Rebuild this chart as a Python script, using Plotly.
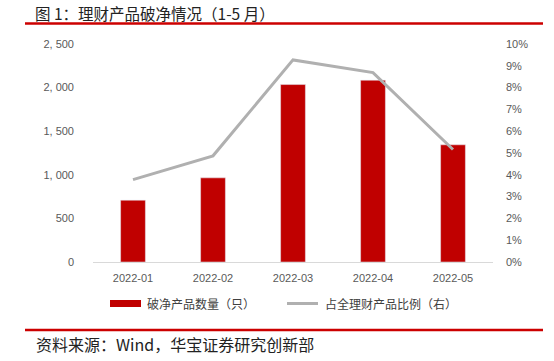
import plotly.graph_objects as go

months = ["2022-01", "2022-02", "2022-03", "2022-04", "2022-05"]
broken_count = [709, 965, 2035, 2085, 1344]
broken_ratio = [3.78, 4.87, 9.27, 8.69, 5.16]

left_ticks = [0, 500, 1000, 1500, 2000, 2500]
left_tick_labels = ["0", "500", "1, 000", "1, 500", "2, 000", "2, 500"]
right_ticks = [0, 1, 2, 3, 4, 5, 6, 7, 8, 9, 10]
right_tick_labels = [f"{v}%" for v in right_ticks]

title_text = "图 1：理财产品破净情况（1-5 月）"
source_text = "资料来源：Wind，华宝证券研究创新部"
bar_name = "破净产品数量（只）"
line_name = "占全理财产品比例（右）"

W, H = 554, 361
ML, MR, MT, MB = 93, 61, 44, 99
PW, PH = W - ML - MR, H - MT - MB

def px(x):
    return (x - ML) / PW

def py(y):
    return (H - MB - y) / PH

BAR_C = "#C00000"
LINE_C = "#B0B0B0"
FONT = "Noto Sans CJK SC"

fig = go.Figure()
fig.add_trace(go.Bar(x=months, y=broken_count, name=bar_name, marker_color=BAR_C,
                     showlegend=False))
fig.add_trace(go.Scatter(x=months, y=broken_ratio, name=line_name, yaxis="y2",
                         mode="lines", line=dict(color=LINE_C, width=3), showlegend=False))

shapes = [
    dict(type="line", xref="paper", yref="paper", x0=px(25), x1=px(543), y0=py(23.5), y1=py(23.5),
         line=dict(color="#CC0000", width=2.5)),
    dict(type="line", xref="paper", yref="paper", x0=px(25), x1=px(543), y0=py(330), y1=py(330),
         line=dict(color="#CC0000", width=2.5)),
    dict(type="rect", xref="paper", yref="paper", x0=px(110), x1=px(141), y0=py(300), y1=py(307),
         fillcolor=BAR_C, line=dict(width=0)),
    dict(type="line", xref="paper", yref="paper", x0=px(287), x1=px(318), y0=py(303.5), y1=py(303.5),
         line=dict(color=LINE_C, width=3)),
]
annotations = [
    dict(text=title_text, xref="paper", yref="paper", x=px(34), y=py(0.5), xanchor="left", yanchor="top",
         showarrow=False, borderpad=0, font=dict(family=FONT, size=15.5, color="#222222")),
    dict(text=source_text, xref="paper", yref="paper", x=px(34), y=py(344), xanchor="left", yanchor="middle",
         showarrow=False, font=dict(family=FONT, size=16, color="#222222")),
    dict(text=bar_name, xref="paper", yref="paper", x=px(145), y=py(303.5), xanchor="left", yanchor="middle",
         showarrow=False, font=dict(family=FONT, size=12, color="#404040")),
    dict(text=line_name, xref="paper", yref="paper", x=px(323), y=py(303.5), xanchor="left", yanchor="middle",
         showarrow=False, font=dict(family=FONT, size=12, color="#404040")),
]

fig.update_layout(
    width=W, height=H,
    margin=dict(l=ML, r=MR, t=MT, b=MB, pad=0),
    paper_bgcolor="white", plot_bgcolor="white",
    font=dict(family="Liberation Sans, Arial", size=11, color="#595959"),
    xaxis=dict(type="category", showgrid=False, showline=True, linecolor="#D9D9D9", linewidth=1,
               ticks="", tickfont=dict(size=11, color="#595959"), ticklabelstandoff=6),
    yaxis=dict(range=[0, 2500], tickvals=left_ticks, ticktext=left_tick_labels, showgrid=False,
               zeroline=False, showline=False, ticks="", tickfont=dict(size=11, color="#595959"),
               ticklabelstandoff=18),
    yaxis2=dict(range=[0, 10], tickvals=right_ticks, ticktext=right_tick_labels, overlaying="y",
                side="right", showgrid=False, zeroline=False, showline=False, ticks="",
                tickfont=dict(size=11, color="#595959"), ticklabelstandoff=12),
    shapes=shapes, annotations=annotations, bargap=0.69,
)

fig.write_html("out.html", config={"displayModeBar": False},
               post_script="document.body.style.margin='0';")
